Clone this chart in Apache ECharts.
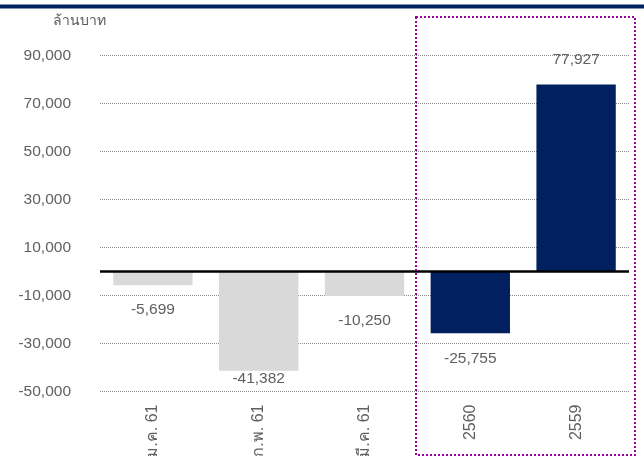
<!DOCTYPE html>
<html>
<head>
<meta charset="utf-8">
<script src="https://cdn.jsdelivr.net/npm/echarts@6/dist/echarts.min.js"></script>
<style>html,body{margin:0;padding:0;background:#fff}#c{width:644px;height:456px}</style>
</head>
<body>
<div id="c"></div>
<script>
var categories = ['ม.ค. 61', 'ก.พ. 61', 'มี.ค. 61', '2560', '2559'];
var values = [-5699, -41382, -10250, -25755, 77927];
var unitLabel = 'ล้านบาท';

var FONT = '"Liberation Sans", Arial, "Noto Sans", sans-serif';
var TXT = '#606060';
var FS = 15.5;

var chart = echarts.init(document.getElementById('c'), null, {renderer: 'canvas'});
var data = values.map(function (v, i) {
  var item = {value: v, itemStyle: {color: i < 3 ? '#D9D9D9' : '#002060'}};
  if (v < 0) item.label = {position: 'bottom', distance: v === -41382 ? 0 : 17};
  return item;
});

chart.setOption({
  animation: false,
  textStyle: {fontFamily: FONT},
  grid: {left: 100, right: 15, top: 31.5, bottom: 64.5, containLabel: false, outerBoundsMode: 'none'},
  xAxis: {
    type: 'category',
    data: categories,
    axisLine: {show: false},
    axisTick: {show: false},
    splitLine: {show: false},
    axisLabel: {rotate: 90, margin: 13, color: TXT, fontSize: 16, fontFamily: FONT}
  },
  yAxis: {
    type: 'value',
    min: -50000,
    max: 100000,
    interval: 10000,
    axisLine: {show: false},
    axisTick: {show: false},
    axisLabel: {
      color: TXT, fontSize: FS, fontFamily: FONT, margin: 29,
      formatter: function (v) {
        if (Math.abs(v / 10000) % 2 !== 1) return '';
        return echarts.format.addCommas(v);
      }
    },
    splitLine: {
      show: true,
      lineStyle: {color: ['#8C8C8C', 'rgba(0,0,0,0)'], type: 'dotted', width: 1}
    }
  },
  series: [{
    type: 'bar',
    data: data,
    barCategoryGap: '25%',
    label: {
      show: true,
      position: 'top',
      distance: 17,
      color: TXT,
      fontSize: FS,
      fontFamily: FONT,
      formatter: function (p) { return echarts.format.addCommas(p.value); }
    },
    markLine: {
      silent: true,
      symbol: 'none',
      label: {show: false},
      lineStyle: {color: '#000', width: 2.5, type: 'solid'},
      data: [{yAxis: 0}]
    }
  }],
  graphic: [
    {type: 'rect', left: 0, top: 4.5, shape: {width: 644, height: 4}, style: {fill: '#002060'}, silent: true},
    {type: 'text', left: 53, top: 14, style: {text: unitLabel, fill: '#595959', font: '14px ' + FONT}},
    {type: 'rect', shape: {x: 416, y: 17, width: 219, height: 438}, style: {fill: 'none', stroke: '#9B009B', lineWidth: 2, lineDash: [2, 2]}, silent: true, z: 10}
  ]
});
</script>
</body>
</html>
